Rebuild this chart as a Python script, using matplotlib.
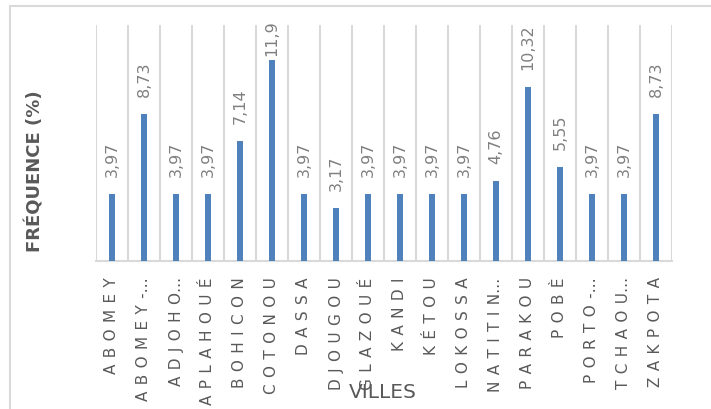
import numpy as np
import matplotlib
matplotlib.use("Agg")
import matplotlib.pyplot as plt
from matplotlib.patches import Rectangle

# data
villes = ["ABOMEY", "ABOMEY-…", "ADJOHO…", "APLAHOUÉ", "BOHICON", "COTONOU",
          "DASSA", "DJOUGOU", "GLAZOUÉ", "KANDI", "KÉTOU", "LOKOSSA",
          "NATITIN…", "PARAKOU", "POBÈ", "PORTO-…", "TCHAOU…", "ZAKPOTA"]
frequences = [3.97, 8.73, 3.97, 3.97, 7.14, 11.9, 3.97, 3.17, 3.97, 3.97,
              3.97, 3.97, 4.76, 10.32, 5.55, 3.97, 3.97, 8.73]
etiquettes = ["3,97", "8,73", "3,97", "3,97", "7,14", "11,9", "3,97", "3,17",
              "3,97", "3,97", "3,97", "3,97", "4,76", "10,32", "5,55", "3,97",
              "3,97", "8,73"]

W, H = 711, 410
fig = plt.figure(figsize=(W / 100, H / 100), dpi=100)
ax = fig.add_axes([96 / W, 1 - 262 / H, (672 - 96) / W, (262 - 26) / H])

x = np.arange(len(villes))
ax.bar(x, frequences, width=0.19, color="#4f81bd", zorder=3)

# data labels above bars (rotated)
for xi, v, lab in zip(x, frequences, etiquettes):
    off = 4 if v > 11 else 13
    ax.annotate(lab, (xi, v), xytext=(0, off), textcoords="offset points",
                rotation=90, ha="center", va="bottom", fontsize=11.5,
                color="#808080")

ax.set_xlim(-0.5, len(villes) - 0.5)
ax.set_ylim(0, 14)

# vertical separators between categories
for b in np.arange(-0.5, len(villes), 1.0):
    ax.axvline(b, color="#d9d9d9", lw=1.5, zorder=1)

# spaced-out capitals like the original
labels = [" \u200a".join(list(v.replace("…", ""))) + ("…" if "…" in v else "")
          for v in villes]
ax.set_xticks(x)
ax.set_xticklabels(labels, rotation=90, fontsize=11, color="#595959")
ax.tick_params(axis="x", length=0, pad=11)
ax.set_yticks([])
for s in ["top", "right", "left"]:
    ax.spines[s].set_visible(False)
ax.spines["bottom"].set_color("#d9d9d9")
ax.spines["bottom"].set_linewidth(1.5)

fig.text(35 / W, 1 - 171 / H, "FRÉQUENCE (%)", rotation=90, ha="center",
         va="center", fontsize=13, fontweight="bold", color="#595959")
fig.text(383 / W, 1 - 393 / H, "VILLES", ha="center", va="center",
         fontsize=14.5, color="#595959",
         family=["Liberation Sans Narrow", "DejaVu Sans Condensed", "DejaVu Sans"])

# chart area frame (runs off the right and bottom edges)
fig.patches.append(Rectangle((10 / W, -0.1), 1.0, 1 - 7 / H + 0.1,
                             transform=fig.transFigure, fill=False,
                             edgecolor="#d9d9d9", lw=1.5))

fig.savefig("out.png", dpi=100)
